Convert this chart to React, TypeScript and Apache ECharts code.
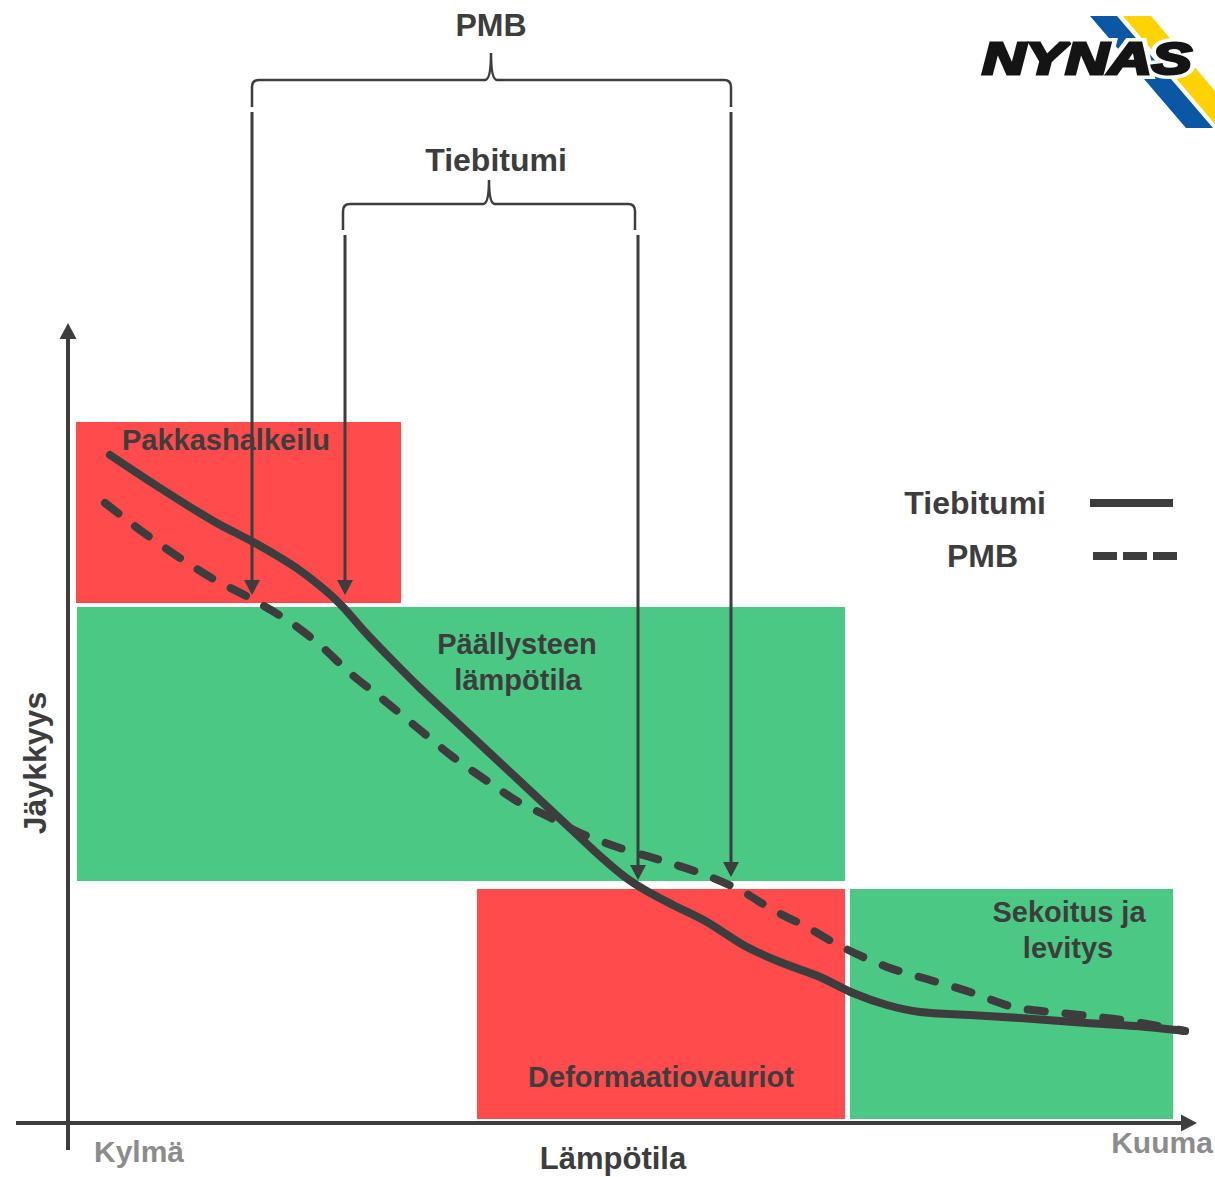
import React, { useEffect, useRef } from "react";
import * as echarts from "echarts";

const W = 1215;
const H = 1177;

// ---- zones (picture units: x = temperature to the right, y = stiffness drawn downward) ----
const zoneNames = ["Pakkashalkeilu", "Päällysteen lämpötila", "Deformaatiovauriot", "Sekoitus ja levitys"];
const zoneX0 = [76, 77, 477, 850];
const zoneX1 = [401, 845, 845, 1173];
const zoneY0 = [422, 607, 889, 889];
const zoneY1 = [603, 881, 1119, 1119];
const zoneKind = [0, 1, 0, 1]; // 0 = damage (red), 1 = ok (green)

// ---- stiffness curves ----
const tiebitumiX = [110, 160, 215, 255, 295, 325, 343, 365, 390, 420, 450, 480, 510, 540, 570, 600, 625, 645, 673, 707, 745, 780, 820, 853, 887, 920, 970, 1020, 1087, 1135, 1185];
const tiebitumiY = [455, 488, 522, 543, 567, 590, 607, 632, 658, 688, 716, 744, 772, 800, 828, 856, 877, 890, 905, 922, 946, 962, 977, 993, 1005, 1012, 1015, 1018, 1023, 1026, 1031];
const pmbX = [105, 140, 180, 215, 250, 290, 320, 350, 380, 420, 453, 490, 520, 545, 580, 620, 660, 700, 740, 773, 807, 840, 887, 930, 970, 1013, 1050, 1090, 1135, 1185];
const pmbY = [503, 530, 558, 580, 598, 622, 645, 673, 697, 730, 757, 783, 803, 815, 833, 848, 860, 873, 890, 910, 927, 946, 967, 980, 992, 1007, 1012, 1016, 1022, 1031];

// ---- braces: left x, centre x, right x, bar y, tip y, foot y ----
const braceLabels = ["PMB", "Tiebitumi"];
const braceLeft = [252, 343];
const braceCenter = [491, 489];
const braceRight = [731, 635];
const braceBar = [80, 204];
const braceTip = [53, 180];
const braceFoot = [107, 230];

// ---- callout arrows: x, start y, tip y ----
const calloutX = [252, 345, 638, 731];
const calloutFrom = [112, 235, 235, 112];
const calloutTip = [595, 595, 880, 877];

// ---- axes arrows: x0, y0, x1, y1 ----
const axisFrom = [[68, 1150], [16, 1123]];
const axisTo = [[68, 323], [1197, 1123]];

const FONT = "'Liberation Sans', Arial, sans-serif";
const INK = "#3d3d3d";
const RED = "#ff4b4b";
const GREEN = "#4bc884";

function arrowRenderer(lineWidth: number, headW: number, headL: number) {
  return (params: any, api: any) => {
    const p0 = api.coord([api.value(0), api.value(1)]);
    const p1 = api.coord([api.value(2), api.value(3)]);
    const dx = p1[0] - p0[0];
    const dy = p1[1] - p0[1];
    const len = Math.sqrt(dx * dx + dy * dy) || 1;
    const ux = dx / len;
    const uy = dy / len;
    const bx = p1[0] - ux * headL;
    const by = p1[1] - uy * headL;
    const nx = -uy;
    const ny = ux;
    return {
      type: "group",
      children: [
        {
          type: "line",
          shape: { x1: p0[0], y1: p0[1], x2: bx + ux, y2: by + uy },
          style: { stroke: INK, lineWidth, fill: null },
        },
        {
          type: "polygon",
          shape: {
            points: [
              [p1[0], p1[1]],
              [bx + nx * headW / 2, by + ny * headW / 2],
              [bx - nx * headW / 2, by - ny * headW / 2],
            ],
          },
          style: { fill: INK },
        },
      ],
    };
  };
}

export default function App() {
  const ref = useRef<HTMLDivElement>(null);

  useEffect(() => {
    const chart = echarts.init(ref.current!, null, { renderer: "svg" });

    const zoneData = zoneNames.map((n, i) => ({
      name: n,
      value: [zoneX0[i], zoneY0[i], zoneX1[i], zoneY1[i], zoneKind[i]],
    }));
    const tieData = tiebitumiX.map((x, i) => [x, tiebitumiY[i]]);
    const pmbData = pmbX.map((x, i) => [x, pmbY[i]]);
    const braceData = braceLabels.map((n, i) => ({
      name: n,
      value: [braceLeft[i], braceCenter[i], braceRight[i], braceBar[i], braceTip[i], braceFoot[i]],
    }));
    const calloutData = calloutX.map((x, i) => [x, calloutFrom[i], x, calloutTip[i]]);
    const axisData = axisFrom.map((f, i) => [f[0], f[1], axisTo[i][0], axisTo[i][1]]);

    const txt = (text: string, x: number, y: number, size: number, extra: any = {}) => ({
      type: "text",
      x,
      y,
      z: 20,
      style: {
        text,
        fill: INK,
        font: `bold ${size}px ${FONT}`,
        align: "center",
        verticalAlign: "middle",
        ...extra,
      },
    });

    const option: any = {
      animation: false,
      grid: { left: 0, right: 0, top: 0, bottom: 0 },
      xAxis: { type: "value", min: 0, max: W, show: false },
      yAxis: { type: "value", min: 0, max: H, inverse: true, show: false },
      series: [
        {
          type: "custom",
          name: "zones",
          z: 1,
          data: zoneData,
          renderItem: (params: any, api: any) => {
            const a = api.coord([api.value(0), api.value(1)]);
            const b = api.coord([api.value(2), api.value(3)]);
            return {
              type: "rect",
              shape: { x: a[0], y: a[1], width: b[0] - a[0], height: b[1] - a[1] },
              style: { fill: api.value(4) === 0 ? RED : GREEN },
            };
          },
        },
        {
          type: "line",
          name: "Tiebitumi",
          z: 3,
          data: tieData,
          smooth: 0.3,
          showSymbol: false,
          symbol: "none",
          lineStyle: { width: 8, color: INK, cap: "round", join: "round" },
        },
        {
          type: "line",
          name: "PMB",
          z: 3,
          data: pmbData,
          smooth: 0.3,
          showSymbol: false,
          symbol: "none",
          lineStyle: { width: 8, color: INK, type: [17, 21], cap: "round", join: "round" },
        },
        {
          type: "custom",
          name: "braces",
          z: 4,
          data: braceData,
          renderItem: (params: any, api: any) => {
            const L = api.coord([api.value(0), api.value(3)]);
            const C = api.coord([api.value(1), api.value(4)]);
            const R = api.coord([api.value(2), api.value(3)]);
            const foot = api.coord([api.value(0), api.value(5)])[1];
            const bar = L[1];
            const r = 7;
            const c = 6;
            const d = [
              `M ${L[0]} ${foot}`,
              `L ${L[0]} ${bar + r}`,
              `Q ${L[0]} ${bar} ${L[0] + r} ${bar}`,
              `L ${C[0] - c} ${bar}`,
              `Q ${C[0]} ${bar} ${C[0]} ${C[1]}`,
              `Q ${C[0]} ${bar} ${C[0] + c} ${bar}`,
              `L ${R[0] - r} ${bar}`,
              `Q ${R[0]} ${bar} ${R[0]} ${bar + r}`,
              `L ${R[0]} ${foot}`,
            ].join(" ");
            return {
              type: "path",
              shape: { pathData: d },
              style: { stroke: INK, lineWidth: 2.5, fill: null },
            };
          },
        },
        {
          type: "custom",
          name: "callouts",
          z: 5,
          data: calloutData,
          renderItem: arrowRenderer(3, 16, 15),
        },
        {
          type: "custom",
          name: "axes",
          z: 5,
          data: axisData,
          renderItem: arrowRenderer(4, 17, 16),
        },
      ],
      graphic: [
        txt("PMB", 491, 25, 32),
        txt("Tiebitumi", 496, 160, 32),
        txt("Pakkashalkeilu", 226, 440, 29),
        txt("Päällysteen", 517, 644, 29),
        txt("lämpötila", 518, 680, 29),
        txt("Sekoitus ja", 1069, 912, 29),
        txt("levitys", 1068, 948, 29),
        txt("Deformaatiovauriot", 661, 1077, 29),
        txt("Tiebitumi", 1046, 503, 32, { align: "right" }),
        txt("PMB", 1018, 556, 32, { align: "right" }),
        txt("Lämpötila", 613, 1158, 31),
        txt("Kylmä", 139, 1151, 30, { fill: "#8c8c8c" }),
        txt("Kuuma", 1162, 1142, 30, { fill: "#8c8c8c" }),
        {
          type: "text",
          x: 35,
          y: 763,
          rotation: Math.PI / 2,
          z: 20,
          style: {
            text: "Jäykkyys",
            fill: INK,
            font: `bold 32px ${FONT}`,
            align: "center",
            verticalAlign: "middle",
          },
        },
        // legend keys
        {
          type: "line",
          z: 20,
          shape: { x1: 1090, y1: 503, x2: 1173, y2: 503 },
          style: { stroke: INK, lineWidth: 8 },
        },
        {
          type: "line",
          z: 20,
          shape: { x1: 1093, y1: 556, x2: 1178, y2: 556 },
          style: { stroke: INK, lineWidth: 8, lineDash: [24, 6] },
        },
        // logo
        {
          type: "polygon",
          z: 20,
          shape: { points: [[1090, 16], [1117, 16], [1213, 128], [1186, 128]] },
          style: { fill: "#0a57a6" },
        },
        {
          type: "polygon",
          z: 20,
          shape: { points: [[1123, 16], [1151, 16], [1215, 91], [1215, 124]] },
          style: { fill: "#ffd200" },
        },
        {
          type: "text",
          x: 1087,
          y: 59,
          scaleX: 1.36,
          z: 21,
          style: {
            text: "NYNAS",
            fill: "#ffffff",
            stroke: "#ffffff",
            lineWidth: 10,
            font: `italic bold 44px ${FONT}`,
            align: "center",
            verticalAlign: "middle",
          },
        },
        {
          type: "text",
          x: 1087,
          y: 59,
          scaleX: 1.36,
          z: 22,
          style: {
            text: "NYNAS",
            fill: "#141414",
            stroke: "#141414",
            lineWidth: 3,
            font: `italic bold 44px ${FONT}`,
            align: "center",
            verticalAlign: "middle",
          },
        },
      ],
    };

    chart.setOption(option);
    return () => chart.dispose();
  }, []);

  return <div ref={ref} style={{ position: "absolute", left: 0, top: 0, width: W, height: H }} />;
}
